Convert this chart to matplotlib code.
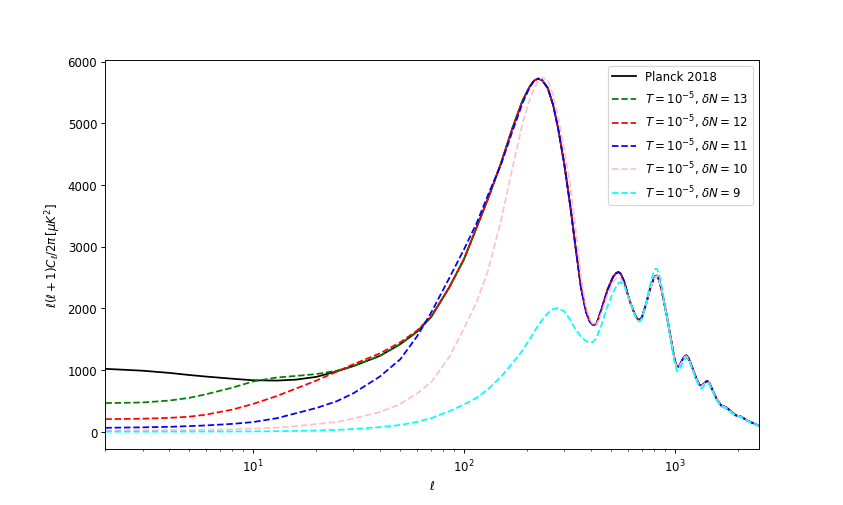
import matplotlib
matplotlib.use("Agg")
import matplotlib.pyplot as plt

# multipoles
ell = [2, 3, 4, 5, 6, 8, 10, 13, 16, 20,
       25, 30, 40, 50, 60, 70, 85, 100, 115, 130,
       150, 170, 190, 205, 215, 225, 235, 250, 265, 280,
       300, 320, 340, 360, 380, 395, 410, 425, 450, 480,
       510, 525, 540, 555, 575, 610, 650, 670, 685, 700,
       730, 760, 790, 810, 825, 845, 870, 920, 970, 1000,
       1025, 1050, 1080, 1110, 1135, 1160, 1190, 1260, 1310, 1340,
       1380, 1410, 1430, 1460, 1500, 1580, 1660, 1750, 1850, 1950,
       2050, 2200, 2350, 2500]

planck = [1020, 990, 955, 920, 895, 860, 835, 830, 845, 890,
          980, 1065, 1230, 1420, 1620, 1860, 2330, 2790, 3310, 3770,
          4350, 4920, 5370, 5590, 5690, 5725, 5700, 5570, 5300, 4920,
          4320, 3650, 2950, 2320, 1940, 1790, 1728, 1740, 1990, 2300,
          2510, 2565, 2590, 2560, 2440, 2130, 1880, 1820, 1818, 1860,
          2060, 2290, 2460, 2525, 2530, 2450, 2270, 1850, 1410, 1160,
          1050, 1065, 1150, 1220, 1237, 1200, 1110, 880, 760, 745,
          785, 815, 820, 790, 700, 530, 425, 400, 330, 265,
          250, 185, 140, 100]

dn13 = [465, 475, 505, 550, 608, 715, 815, 880, 905, 935,
        990, 1065, 1230, 1420, 1620, 1860, 2330, 2790, 3310, 3770,
        4350, 4920, 5370, 5590, 5690, 5725, 5700, 5570, 5300, 4920,
        4320, 3650, 2950, 2320, 1940, 1790, 1728, 1740, 1990, 2300,
        2510, 2565, 2590, 2560, 2440, 2130, 1880, 1820, 1818, 1860,
        2060, 2290, 2460, 2525, 2530, 2450, 2270, 1850, 1410, 1160,
        1050, 1065, 1150, 1220, 1237, 1200, 1110, 880, 760, 745,
        785, 815, 820, 790, 700, 530, 425, 400, 330, 265,
        250, 185, 140, 100]

dn12 = [205, 212, 225, 245, 278, 360, 450, 580, 700, 830,
        975, 1095, 1270, 1450, 1640, 1870, 2330, 2790, 3310, 3770,
        4350, 4920, 5370, 5590, 5690, 5725, 5700, 5570, 5300, 4920,
        4320, 3650, 2950, 2320, 1940, 1790, 1728, 1740, 1990, 2300,
        2510, 2565, 2590, 2560, 2440, 2130, 1880, 1820, 1818, 1860,
        2060, 2290, 2460, 2525, 2530, 2450, 2270, 1850, 1410, 1160,
        1050, 1065, 1150, 1220, 1237, 1200, 1110, 880, 760, 745,
        785, 815, 820, 790, 700, 530, 425, 400, 330, 265,
        250, 185, 140, 100]

dn11 = [65, 72, 80, 92, 103, 128, 157, 220, 300, 385,
        495, 625, 895, 1175, 1545, 1930, 2480, 2950, 3380, 3830,
        4330, 4870, 5330, 5580, 5685, 5722, 5700, 5570, 5300, 4920,
        4320, 3650, 2950, 2320, 1940, 1790, 1728, 1740, 1990, 2300,
        2510, 2565, 2590, 2560, 2440, 2130, 1880, 1820, 1818, 1860,
        2060, 2290, 2460, 2525, 2530, 2450, 2270, 1850, 1410, 1160,
        1050, 1065, 1150, 1220, 1237, 1200, 1110, 880, 760, 745,
        785, 815, 820, 790, 700, 530, 425, 400, 330, 265,
        250, 185, 140, 100]

dn10 = [22, 25, 27, 30, 32, 40, 50, 68, 92, 125,
        160, 215, 320, 450, 620, 800, 1200, 1670, 2100, 2600,
        3420, 4270, 5000, 5380, 5560, 5680, 5740, 5700, 5460, 5100,
        4560, 3980, 3250, 2480, 2020, 1830, 1740, 1725, 1930, 2220,
        2420, 2480, 2500, 2480, 2390, 2120, 1860, 1800, 1795, 1840,
        2040, 2280, 2450, 2515, 2525, 2450, 2270, 1850, 1400, 1150,
        1030, 1050, 1130, 1205, 1225, 1190, 1100, 870, 750, 732,
        775, 805, 810, 780, 690, 525, 420, 395, 325, 262,
        247, 183, 138, 99]

dn9 = [2, 2, 3, 3, 4, 5, 6, 10, 14, 22,
       30, 45, 75, 110, 160, 220, 330, 440, 550, 690,
       890, 1110, 1320, 1500, 1610, 1720, 1810, 1920, 1990, 2005,
       1950, 1810, 1650, 1540, 1470, 1450, 1455, 1520, 1740, 2040,
       2260, 2340, 2410, 2425, 2370, 2150, 1870, 1800, 1790, 1840,
       2080, 2360, 2560, 2640, 2640, 2530, 2330, 1850, 1370, 1120,
       980, 1000, 1090, 1170, 1200, 1170, 1090, 850, 720, 700,
       750, 780, 790, 760, 680, 510, 405, 380, 315, 250,
       240, 175, 130, 95]

fig = plt.figure(figsize=(10, 6), dpi=84.3)
ax = fig.add_subplot(111)

ax.plot(ell, planck, color="black", label="Planck 2018")
ax.plot(ell, dn13, "--", color="green", label=r"$T=10^{-5}$, $\delta N=13$")
ax.plot(ell, dn12, "--", color="red", label=r"$T=10^{-5}$, $\delta N=12$")
ax.plot(ell, dn11, "--", color="blue", label=r"$T=10^{-5}$, $\delta N=11$")
ax.plot(ell, dn10, "--", color="pink", label=r"$T=10^{-5}$, $\delta N=10$")
ax.plot(ell, dn9, "--", color="cyan", label=r"$T=10^{-5}$, $\delta N=9$")

ax.set_xscale("log")
ax.set_xlim(2, 2500)
ax.set_xlabel(r"$\ell$")
ax.set_ylabel(r"$\ell(\ell+1)C_\ell/2\pi\,[\mu K^2]$")
ax.legend(loc="upper right")

fig.savefig("out.png", dpi=84.3)
